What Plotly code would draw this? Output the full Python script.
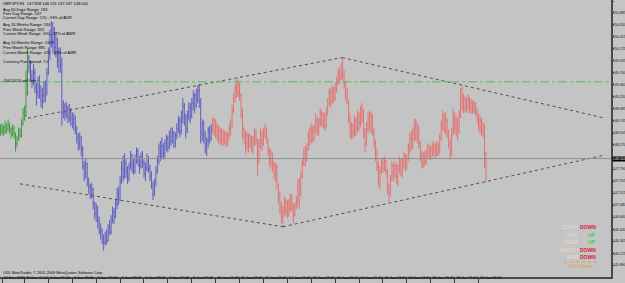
import plotly.graph_objects as go

# ---------------- data (GBPJPY H1, bar index 0 = 30 Dec 2009 18:00) ----------------
bar_close = [
    148.55, 148.60, 148.52, 148.62, 148.58, 148.66, 148.56, 148.48, 148.60, 148.50,
    148.30, 148.38, 148.55, 148.45, 148.70, 148.92, 148.85, 149.30, 150.00, 149.80,
    149.62, 149.50, 149.70, 149.40, 149.30, 149.55, 149.35, 149.15, 149.25, 149.40,
    149.30, 149.70, 150.10, 150.45, 150.35, 150.55, 150.20, 150.35, 149.95, 150.10,
    149.85, 148.90, 149.05, 148.90, 149.00, 148.82, 148.95, 148.80, 148.70, 148.78,
    148.60, 148.40, 148.30, 148.42, 148.20, 147.85, 147.70, 147.90, 147.55, 147.45,
    147.30, 147.40, 147.10, 146.90, 147.05, 146.75, 146.60, 146.55, 146.40, 146.35,
    146.45, 146.38, 146.65, 146.55, 146.80, 146.95, 146.85, 147.10, 147.30, 147.20,
    147.55, 147.80, 147.65, 147.90, 147.75, 147.60, 147.85, 148.05, 147.90, 147.75,
    148.00, 148.15, 147.95, 147.85, 148.05, 147.90, 147.70, 147.82, 148.00, 147.80,
    147.65, 147.45, 147.30, 147.55, 147.75, 147.95, 148.20, 148.05, 148.25, 148.10,
    148.30, 148.40, 148.22, 148.45, 148.35, 148.50, 148.30, 148.45, 148.60, 148.75,
    148.55, 148.80, 149.05, 148.80, 148.60, 148.85, 149.00, 148.85, 149.10, 149.25,
    149.05, 149.25, 149.35, 149.10, 148.50, 148.70, 148.45, 148.20, 148.35, 148.55,
    148.40, 148.60, 148.75, 148.55, 148.62, 148.45, 148.55, 148.40, 148.52, 148.35,
    148.48, 148.30, 148.45, 148.60, 148.70, 148.95, 149.20, 149.40, 149.30, 149.45,
    149.25, 148.90, 148.60, 148.45, 148.30, 148.45, 148.28, 148.40, 148.20, 148.35,
    148.50, 148.35, 147.95, 148.30, 148.45, 148.30, 148.50, 148.55, 148.40, 148.15,
    147.95, 148.10, 147.85, 147.70, 147.85, 147.50, 147.25, 147.05, 146.85, 146.95,
    147.15, 146.95, 147.10, 147.00, 147.20, 147.05, 146.90, 147.05, 147.15, 147.45,
    147.30, 147.65, 147.90, 148.10, 147.95, 148.20, 148.45, 148.35, 148.55, 148.40,
    148.60, 148.75, 148.55, 148.70, 148.90, 148.75, 148.85, 148.65, 148.90, 149.10,
    149.30, 149.15, 149.35, 149.20, 149.40, 149.55, 149.70, 149.60, 149.80, 149.65,
    149.45, 149.30, 149.15, 148.80, 148.55, 148.65, 148.50, 148.75, 148.60, 148.85,
    148.70, 148.90, 148.95, 148.55, 148.30, 148.60, 148.80, 148.65, 148.85, 148.55,
    148.30, 148.10, 147.85, 147.60, 147.75, 147.90, 147.80, 147.95, 147.75, 147.40,
    147.30, 147.60, 147.85, 147.70, 147.85, 147.65, 147.80, 147.95, 147.75, 147.90,
    148.05, 147.85, 148.00, 148.20, 148.40, 148.25, 148.50, 148.65, 148.45, 148.60,
    148.30, 148.05, 147.90, 148.05, 147.95, 148.10, 148.20, 148.05, 148.18, 148.10,
    148.25, 148.12, 148.28, 148.15, 148.40, 148.65, 148.80, 148.60, 148.75, 148.50,
    148.30, 148.15, 148.50, 148.80, 148.60, 148.75, 148.55, 148.85, 149.20, 149.10,
    149.00, 149.15, 149.05, 149.18, 149.00, 149.10, 148.95, 149.08, 148.92, 148.80,
    148.65, 148.75, 148.55, 148.65, 147.86, 148.000,
]
bar_high = [
    148.68, 148.70, 148.66, 148.75, 148.70, 148.78, 148.72, 148.62, 148.68, 148.65,
    148.52, 148.45, 148.62, 148.60, 148.78, 149.00, 149.05, 149.75, 150.18, 150.05,
    149.95, 149.75, 149.88, 149.78, 149.50, 149.62, 149.65, 149.45, 149.40, 149.52,
    149.55, 149.80, 150.20, 150.55, 150.72, 150.70, 150.60, 150.50, 150.40, 150.20,
    150.20, 150.00, 149.15, 149.10, 149.12, 149.05, 149.08, 149.00, 148.92, 148.90,
    148.85, 148.65, 148.50, 148.52, 148.45, 148.25, 147.95, 148.00, 147.92, 147.62,
    147.50, 147.52, 147.42, 147.15, 147.12, 147.05, 146.85, 146.72, 146.62, 146.50,
    146.55, 146.60, 146.70, 146.78, 146.88, 147.05, 147.02, 147.20, 147.42, 147.45,
    147.65, 147.95, 148.05, 148.10, 147.98, 147.85, 147.92, 148.15, 148.10, 148.00,
    148.08, 148.22, 148.20, 148.05, 148.12, 148.15, 147.98, 147.92, 148.10, 148.05,
    147.88, 147.75, 147.55, 147.60, 147.85, 148.05, 148.30, 148.35, 148.42, 148.30,
    148.38, 148.48, 148.45, 148.55, 148.60, 148.62, 148.55, 148.52, 148.70, 148.85,
    148.82, 148.95, 149.20, 149.10, 148.88, 148.95, 149.12, 149.10, 149.20, 149.35,
    149.30, 149.38, 149.45, 149.48, 149.20, 148.78, 148.75, 148.55, 148.42, 148.62,
    148.65, 148.68, 148.82, 148.80, 148.78, 148.70, 148.65, 148.62, 148.60, 148.58,
    148.55, 148.52, 148.52, 148.68, 148.78, 149.05, 149.30, 149.48, 149.55, 149.58,
    149.50, 149.30, 149.00, 148.62, 148.55, 148.52, 148.50, 148.48, 148.45, 148.45,
    148.60, 148.58, 148.40, 148.38, 148.62, 148.55, 148.60, 148.68, 148.62, 148.40,
    148.22, 148.18, 148.12, 147.95, 147.92, 147.88, 147.50, 147.35, 147.15, 147.05,
    147.25, 147.22, 147.18, 147.20, 147.30, 147.28, 147.12, 147.12, 147.25, 147.60,
    147.62, 147.75, 148.00, 148.20, 148.25, 148.30, 148.55, 148.62, 148.70, 148.65,
    148.68, 148.90, 148.82, 148.80, 149.00, 148.95, 148.92, 148.90, 149.02, 149.20,
    149.40, 149.38, 149.45, 149.42, 149.50, 149.62, 149.78, 149.80, 149.90, 149.98,
    149.75, 149.52, 149.40, 149.15, 148.90, 148.72, 148.70, 148.85, 148.82, 148.95,
    148.92, 149.05, 149.10, 148.98, 148.60, 148.72, 148.92, 148.95, 148.92, 148.88,
    148.60, 148.38, 148.20, 147.95, 147.85, 148.00, 148.02, 148.05, 147.98, 147.80,
    147.50, 147.68, 147.95, 147.90, 147.95, 147.90, 147.88, 148.05, 148.00, 148.00,
    148.12, 148.10, 148.08, 148.30, 148.50, 148.55, 148.62, 148.78, 148.80, 148.72,
    148.65, 148.35, 148.15, 148.12, 148.15, 148.18, 148.30, 148.28, 148.25, 148.32,
    148.35, 148.30, 148.35, 148.32, 148.50, 148.75, 148.95, 148.90, 148.92, 148.80,
    148.58, 148.40, 148.62, 149.00, 148.92, 148.85, 148.80, 148.95, 149.40, 149.42,
    149.28, 149.25, 149.20, 149.28, 149.22, 149.18, 149.15, 149.15, 149.12, 149.00,
    148.90, 148.85, 148.80, 148.72, 148.68, 148.131,
]
bar_low = [
    148.45, 148.48, 148.44, 148.50, 148.50, 148.55, 148.50, 148.40, 148.45, 148.40,
    148.14, 148.22, 148.35, 148.40, 148.42, 148.65, 148.75, 148.82, 149.25, 149.70,
    149.55, 149.40, 149.45, 149.30, 149.05, 149.20, 149.18, 149.02, 148.98, 149.10,
    149.12, 149.25, 149.65, 149.95, 150.20, 150.10, 150.05, 150.00, 149.80, 149.70,
    149.70, 148.65, 148.80, 148.75, 148.80, 148.70, 148.72, 148.65, 148.60, 148.55,
    148.48, 148.30, 148.15, 148.18, 148.05, 147.78, 147.55, 147.60, 147.45, 147.30,
    147.20, 147.22, 147.00, 146.80, 146.75, 146.62, 146.50, 146.40, 146.30, 146.18,
    146.28, 146.30, 146.35, 146.48, 146.50, 146.72, 146.70, 146.82, 147.00, 147.08,
    147.15, 147.50, 147.55, 147.60, 147.62, 147.50, 147.55, 147.78, 147.72, 147.68,
    147.70, 147.90, 147.85, 147.70, 147.80, 147.82, 147.62, 147.55, 147.75, 147.72,
    147.55, 147.40, 147.18, 147.25, 147.45, 147.70, 147.88, 147.95, 148.00, 147.98,
    148.02, 148.15, 148.12, 148.18, 148.25, 148.30, 148.20, 148.22, 148.38, 148.50,
    148.42, 148.48, 148.70, 148.65, 148.40, 148.50, 148.75, 148.70, 148.80, 148.95,
    148.90, 149.00, 149.10, 149.00, 148.30, 148.35, 148.30, 148.10, 148.05, 148.22,
    148.30, 148.35, 148.50, 148.45, 148.40, 148.35, 148.30, 148.28, 148.25, 148.25,
    148.28, 148.22, 148.25, 148.38, 148.45, 148.62, 148.90, 149.10, 149.20, 149.22,
    149.15, 148.80, 148.40, 148.30, 148.10, 148.15, 148.12, 148.20, 148.12, 148.08,
    148.25, 148.28, 147.65, 147.90, 148.20, 148.15, 148.25, 148.40, 148.30, 148.05,
    147.85, 147.80, 147.75, 147.60, 147.55, 147.40, 147.10, 146.90, 146.72, 146.65,
    146.85, 146.88, 146.82, 146.85, 146.95, 146.95, 146.72, 146.85, 146.98, 147.05,
    147.00, 147.25, 147.60, 147.85, 147.85, 147.95, 148.15, 148.25, 148.30, 148.32,
    148.35, 148.50, 148.45, 148.45, 148.62, 148.65, 148.60, 148.55, 148.60, 148.85,
    149.05, 149.00, 149.08, 149.10, 149.15, 149.30, 149.45, 149.48, 149.55, 149.55,
    149.38, 149.15, 149.08, 148.70, 148.40, 148.38, 148.40, 148.45, 148.45, 148.52,
    148.55, 148.62, 148.70, 148.40, 148.12, 148.25, 148.50, 148.55, 148.50, 148.45,
    148.20, 147.95, 147.75, 147.45, 147.38, 147.70, 147.72, 147.75, 147.68, 147.30,
    147.14, 147.25, 147.55, 147.55, 147.62, 147.50, 147.45, 147.70, 147.65, 147.62,
    147.80, 147.75, 147.78, 147.95, 148.10, 148.15, 148.20, 148.35, 148.35, 148.30,
    148.20, 147.95, 147.80, 147.82, 147.85, 147.88, 148.00, 147.98, 147.98, 148.02,
    148.05, 148.00, 148.05, 148.05, 148.10, 148.35, 148.55, 148.50, 148.48, 148.40,
    148.20, 147.98, 148.05, 148.45, 148.50, 148.45, 148.35, 148.50, 148.80, 148.95,
    148.90, 148.92, 148.90, 148.95, 148.90, 148.88, 148.88, 148.90, 148.85, 148.70,
    148.55, 148.50, 148.45, 148.42, 147.80, 147.537,
]
first_open = 148.50
last_open = 147.858

segment_start = [0, 19, 142]            # colour segments of the bar chart
segment_colors = ["#3f9c3f", "#5c5cc2", "#e37272"]

time_tick_bars = [1, 16, 32, 48, 64, 80, 96, 112, 128, 144, 160,
                  176, 192, 208, 224, 240, 256, 272, 288, 304, 320]
time_tick_labels = ["30 Dec 2009", "31 Dec 10:00", "4 Jan 07:00", "4 Jan 23:00",
                    "5 Jan 15:00", "6 Jan 07:00", "6 Jan 23:00", "7 Jan 15:00",
                    "8 Jan 07:00", "10 Jan 21:00", "11 Jan 13:00", "12 Jan 05:00",
                    "12 Jan 21:00", "13 Jan 13:00", "14 Jan 05:00", "14 Jan 21:00",
                    "15 Jan 13:00", "18 Jan 03:00", "18 Jan 19:00", "19 Jan 11:00",
                    "20 Jan 03:00"]

price_tick_labels = ["151.120", "150.885", "150.650", "150.415", "150.175", "149.935",
                     "149.700", "149.460", "149.220", "148.985", "148.745", "148.505",
                     "148.270", "147.790", "147.555", "147.315", "147.080",
                     "146.840", "146.600", "146.365", "146.125", "145.890", "145.650"]

bid_price = 148.000
sell_limit_price = 149.52
sell_limit_label = "#5612023 sell limit"

trend_bars = [[18.35, 228.7], [228.7, 404.7], [13.0, 189.1], [189.1, 404.7]]
trend_prices = [[148.80, 150.00], [150.00, 148.80], [147.50, 146.65], [146.65, 148.07]]

info_lines = ["GBPJPY,H1  147.858 148.131 147.537 148.000",
              "Avg 60 Days Range: 183", "Prev Day Range: 147",
              "Current Day Range: 170 - 93% of ADR",
              "Avg 26 Weeks Range: 534", "Prev Week Range: 355",
              "Current Week Range: 190 - 37% of AWR",
              "Avg 24 Months Range: 1329", "Prev Month Range: 885",
              "Current Month Range: 472 - 35% of AMR",
              "Currency Pair spread: 7.0"]
info_rows_px = [4, 9, 13.5, 17.5, 25, 29.5, 34, 43, 47.5, 52, 61]

move_periods = ["TODAY", "Y-DAY", "WEEK", "MONTH", "YEAR"]
move_dirs = ["DOWN", "UP", "UP", "DOWN", "DOWN"]

copyright_text = "ODL MetaTrader, \u00a9 2001-2009 MetaQuotes Software Corp."

# ---------------- figure ----------------
n = len(bar_close)
assert len(bar_high) == n and len(bar_low) == n, (len(bar_high), len(bar_low), n)
bar_open = [first_open] + bar_close[:-1]
bar_open[-1] = last_open
bar_open = [min(max(o, l), h) for o, h, l in zip(bar_open, bar_high, bar_low)]
bar_idx = list(range(n))

BG = "#c4c4c4"
W, H = 625, 283
ML, MR, MT, MB = 0, 14, 0, 6
PW, PH = W - ML - MR, H - MT - MB
FONT = "Liberation Sans"

fig = go.Figure()
bounds = segment_start + [n]
for k, col in enumerate(segment_colors):
    a, b = bounds[k], bounds[k + 1]
    fig.add_trace(go.Ohlc(
        x=bar_idx[a:b], open=bar_open[a:b], high=bar_high[a:b],
        low=bar_low[a:b], close=bar_close[a:b],
        increasing=dict(line=dict(color=col, width=1)),
        decreasing=dict(line=dict(color=col, width=1)),
        tickwidth=0.45, showlegend=False, hoverinfo="skip"))

shapes = []
for bx, py in zip(trend_bars, trend_prices):
    shapes.append(dict(type="line", xref="x", yref="y", x0=bx[0], x1=bx[1],
                       y0=py[0], y1=py[1],
                       line=dict(color="#4e4e4e", width=1, dash="dot")))
shapes.append(dict(type="line", xref="paper", yref="y", x0=0, x1=1,
                   y0=bid_price, y1=bid_price, line=dict(color="#8e8e8e", width=1)))
shapes.append(dict(type="line", xref="paper", yref="y", x0=0, x1=1,
                   y0=sell_limit_price, y1=sell_limit_price,
                   line=dict(color="#5cb85c", width=1, dash="dashdot")))
# dotted separator above "Main Moves"
shapes.append(dict(type="line", xref="paper", yref="paper",
                   x0=564 / PW, x1=597 / PW, y0=1 - 262 / PH, y1=1 - 262 / PH,
                   line=dict(color="#d9a050", width=1, dash="dot")))


def px_ann(text, x, y, size=4, color="#000000", anchor="left", bold=False, **kw):
    if bold:
        text = "<b>" + text + "</b>"
    return dict(text=text, xref="paper", yref="paper", x=x / PW, y=1 - y / PH,
                xanchor=anchor, yanchor="middle", showarrow=False,
                font=dict(family=FONT, size=size, color=color), borderpad=0, **kw)


annotations = []
for line, ry in zip(info_lines, info_rows_px):
    annotations.append(px_ann(line, 2, ry))
annotations.append(px_ann(sell_limit_label, 2, 80))
annotations.append(px_ann(copyright_text, 2, 272.5, size=3.8))

rows = [227, 234.5, 242, 249.5, 257]
for per, d, ry in zip(move_periods, move_dirs, rows):
    annotations.append(px_ann(per, 580, ry, size=5, color="#e8dccf", anchor="right"))
    annotations.append(px_ann(d, 597, ry, size=5,
                              color="#d4203c" if d == "DOWN" else "#3ccf3c",
                              anchor="right", bold=True))
annotations.append(px_ann("Main Moves", 581, 266.5, size=4.5, color="#dfa04a", anchor="center"))

# current price box on the price scale
annotations.append(dict(text="148.000", xref="paper", yref="y", x=(PW + 1) / PW, y=bid_price,
                        xanchor="left", yanchor="middle", showarrow=False, bgcolor="#000000",
                        font=dict(family=FONT, size=3.6, color="#e8e8e8"), borderpad=0))

fig.update_layout(
    width=W, height=H, margin=dict(l=ML, r=MR, t=MT, b=MB, autoexpand=False),
    paper_bgcolor=BG, plot_bgcolor=BG, showlegend=False,
    shapes=shapes, annotations=annotations,
    xaxis=dict(range=[-0.4, 408.7], showgrid=False, zeroline=False, automargin=False,
               showline=True, linecolor="#4a4a4a", linewidth=2, mirror=True,
               ticks="outside", ticklen=4, tickcolor="#3a3a3a", tickwidth=1,
               tickvals=time_tick_bars, ticktext=time_tick_labels, tickangle=0,
               ticklabelposition="outside right", ticklabelstandoff=-5,
               tickfont=dict(family=FONT, size=3.8, color="#111111"),
               rangeslider=dict(visible=False), fixedrange=True),
    yaxis=dict(side="right", range=[145.655, 151.14], showgrid=False, zeroline=False,
               automargin=False,
               showline=True, linecolor="#4a4a4a", linewidth=2,
               ticks="outside", ticklen=1, tickcolor="#3a3a3a", tickwidth=1,
               ticklabelstandoff=-2,
               tickvals=[float(v) for v in price_tick_labels], ticktext=price_tick_labels,
               tickfont=dict(family=FONT, size=3.6, color="#111111"), fixedrange=True),
)

fig.write_html("out.html")
